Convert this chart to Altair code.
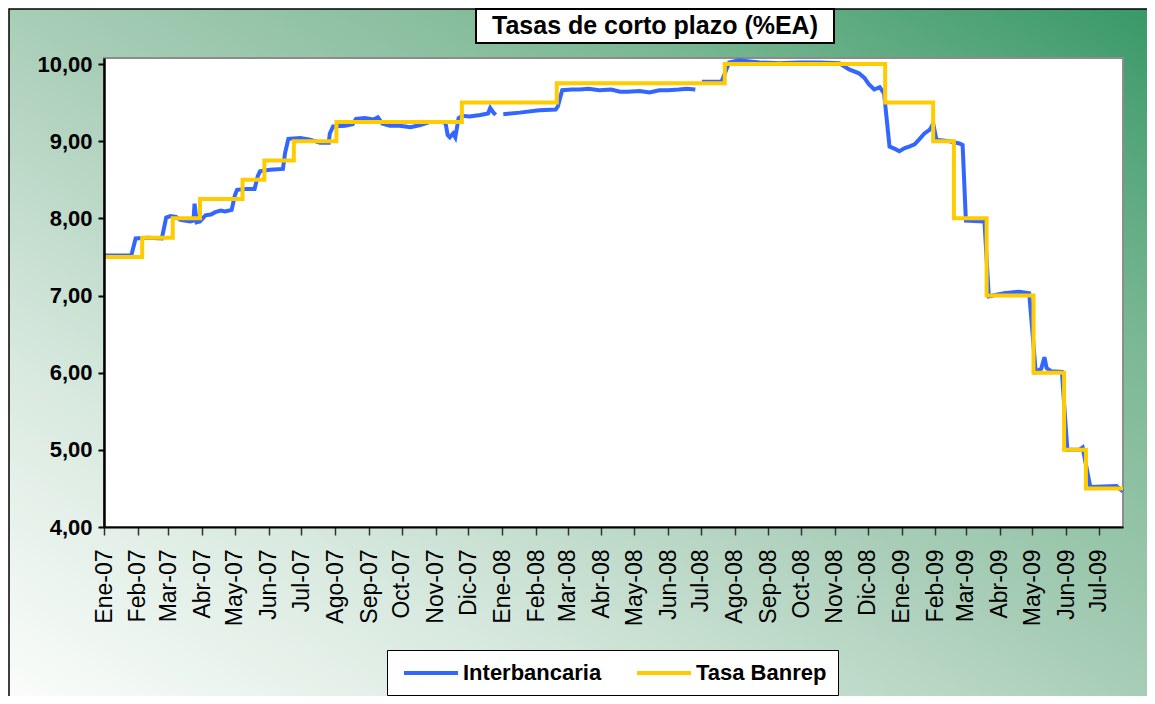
import altair as alt
import pandas as pd

# ---------------- data ----------------
inter_dates = [
    "2007-01-02", "2007-01-26", "2007-01-30", "2007-02-10", "2007-02-23", "2007-02-27",
    "2007-03-03", "2007-03-08", "2007-03-12", "2007-03-21", "2007-03-24", "2007-03-25",
    "2007-03-27", "2007-03-30", "2007-04-04", "2007-04-09", "2007-04-13", "2007-04-18",
    "2007-04-22", "2007-04-28", "2007-05-01", "2007-05-03", "2007-05-11", "2007-05-19",
    "2007-05-22", "2007-05-24", "2007-06-02", "2007-06-14", "2007-06-16", "2007-06-19",
    "2007-06-30", "2007-07-09", "2007-07-18", "2007-07-26", "2007-07-27", "2007-07-30",
    "2007-08-10", "2007-08-17", "2007-08-20", "2007-08-28", "2007-09-05", "2007-09-09",
    "2007-09-13", "2007-09-20", "2007-09-29", "2007-10-09", "2007-10-18", "2007-10-27",
    "2007-11-05", "2007-11-10", "2007-11-12", "2007-11-14", "2007-11-17", "2007-11-19",
    "2007-11-22", "2007-11-25", "2007-12-02", "2007-12-12", "2007-12-19", "2007-12-21",
    "2007-12-24", "2007-12-26", "2007-12-31",
    "2008-01-02", "2008-01-17", "2008-02-04", "2008-02-19", "2008-02-21", "2008-02-25",
    "2008-03-05", "2008-03-12", "2008-03-20", "2008-03-30", "2008-04-10", "2008-04-18",
    "2008-04-25", "2008-05-06", "2008-05-15", "2008-05-24", "2008-06-01", "2008-06-11",
    "2008-06-18", "2008-06-26", "2008-06-29",
    "2008-07-02", "2008-07-20", "2008-07-27", "2008-08-05", "2008-08-24", "2008-09-11",
    "2008-09-29", "2008-10-18", "2008-11-05", "2008-11-14", "2008-11-23", "2008-11-28",
    "2008-12-02", "2008-12-07", "2008-12-12", "2008-12-16", "2008-12-21", "2008-12-26",
    "2008-12-30", "2009-01-04", "2009-01-08", "2009-01-13", "2009-01-17", "2009-01-22",
    "2009-01-27", "2009-01-30", "2009-02-02", "2009-02-14", "2009-02-23", "2009-02-26",
    "2009-03-01", "2009-03-18", "2009-03-22", "2009-04-05", "2009-04-19", "2009-04-28",
    "2009-05-04", "2009-05-09", "2009-05-12", "2009-05-14", "2009-05-18", "2009-05-28",
    "2009-06-02", "2009-06-13", "2009-06-16", "2009-06-23", "2009-07-17", "2009-07-23",
]
inter_values = [
    7.52, 7.52, 7.74, 7.75, 7.74, 8.01,
    8.03, 8.02, 7.98, 7.96, 7.97, 8.19,
    7.95, 7.96, 8.04, 8.05, 8.08, 8.10,
    8.09, 8.11, 8.30, 8.37, 8.38, 8.38,
    8.55, 8.61, 8.63, 8.64, 8.85, 9.03,
    9.04, 9.02, 8.98, 8.98, 9.10, 9.19,
    9.20, 9.22, 9.29, 9.30, 9.28, 9.31,
    9.23, 9.20, 9.20, 9.18, 9.21, 9.25,
    9.25, 9.24, 9.08, 9.05, 9.10, 9.05,
    9.30, 9.33, 9.32, 9.34, 9.36, 9.43,
    9.37, 9.34, None,
    9.35, 9.37, 9.40, 9.41, 9.45, 9.66,
    9.67, 9.67, 9.68, 9.66, 9.67, 9.64,
    9.64, 9.65, 9.63, 9.66, 9.66, 9.67,
    9.68, 9.67, None,
    9.77, 9.77, 10.02, 10.05, 10.02, 10.01,
    10.02, 10.02, 10.01, 9.93, 9.88, 9.82,
    9.74, 9.67, 9.70, 9.62, 8.93, 8.90,
    8.87, 8.91, 8.93, 8.96, 9.02, 9.10,
    9.15, 9.23, 9.02, 9.00, 8.97, 8.95,
    7.97, 7.96, 6.99, 7.03, 7.05, 7.03,
    6.01, 6.05, 6.20, 6.06, 6.02, 6.01,
    5.00, 5.00, 5.03, 4.52, 4.53, 4.46,
]

banrep_dates = [
    "2007-01-01", "2007-02-05", "2007-03-05", "2007-03-30", "2007-05-08", "2007-05-28",
    "2007-06-24", "2007-08-02", "2007-11-25", "2008-02-20", "2008-07-23", "2008-12-17",
    "2009-01-30", "2009-02-18", "2009-03-20", "2009-05-02", "2009-05-30", "2009-06-19",
    "2009-07-23",
]
banrep_values = [
    7.50, 7.75, 8.00, 8.25, 8.50, 8.75,
    9.00, 9.25, 9.50, 9.75, 10.00, 9.50,
    9.00, 8.00, 7.00, 6.00, 5.00, 4.50,
    4.50,
]

series_names = ["Interbancaria", "Tasa Banrep"]
series_colors = ["#3366ff", "#ffcc00"]
month_abbr = ["Ene", "Feb", "Mar", "Abr", "May", "Jun", "Jul", "Ago", "Sep", "Oct", "Nov", "Dic"]
y_ticks = [4, 5, 6, 7, 8, 9, 10]
title_text = "Tasas de corto plazo (%EA)"

# ---------------- layout ----------------
W, H = 1019, 469
PAD = {"left": 96, "top": 50, "right": 24, "bottom": 169}
FONT = "Liberation Sans"

df_i = pd.DataFrame({"fecha": inter_dates, "tasa": inter_values, "serie": series_names[0]})
df_b = pd.DataFrame({"fecha": banrep_dates, "tasa": banrep_values, "serie": series_names[1]})

tick_vals = [alt.DateTime(year=d.year, month=d.month, date=1, utc=True)
             for d in pd.date_range("2007-01-01", "2009-07-01", freq="MS")]
month_js = "[" + ",".join("'%s'" % m for m in month_abbr) + "]"

x_enc = alt.X(
    "fecha:T",
    title=None,
    scale=alt.Scale(type="utc", domain=[alt.DateTime(year=2007, month=1, date=1, utc=True),
                                        alt.DateTime(year=2009, month=7, date=23, utc=True)]),
    axis=alt.Axis(
        values=tick_vals,
        labelExpr=month_js + "[utcmonth(datum.value)] + '-' + utcFormat(datum.value, '%y')",
        labelAngle=270, labelAlign="right", labelBaseline="middle",
        labelFont=FONT, labelFontSize=23, labelColor="black",
        labelOverlap=False, labelFlush=False, labelBound=False,
        labelPadding=14, tickSize=8, tickColor="#333333", tickWidth=1.5,
        domainColor="black", domainWidth=2, grid=False, zindex=1,
    ),
)
y_enc = alt.Y(
    "tasa:Q",
    title=None,
    scale=alt.Scale(domain=[4, 10.078], nice=False, zero=False),
    axis=alt.Axis(
        values=y_ticks,
        labelExpr="replace(format(datum.value, '.2f'), '.', ',')",
        labelFont=FONT, labelFontSize=22, labelFontWeight="bold", labelColor="black",
        labelPadding=6, tickSize=6, tickColor="black", tickWidth=2,
        domainColor="black", domainWidth=2.5, grid=False, zindex=1,
    ),
)
color_enc = alt.Color(
    "serie:N",
    scale=alt.Scale(domain=series_names, range=series_colors),
    legend=alt.Legend(
        title=None, orient="none", legendX=283, legendY=592, direction="horizontal",
        symbolType="M-2.7,0H2.7", symbolSize=400, symbolStrokeWidth=4, symbolOffset=21,
        labelFont=FONT, labelFontSize=22, labelFontWeight="bold", labelColor="black",
        labelOffset=20, columnPadding=27, padding=11,
        fillColor="white", strokeColor="black",
    ),
)

one = alt.Data(values=[{"k": 1}])

bg = alt.Chart(one).mark_rect(
    fill=alt.LinearGradient(
        gradient="linear", x1=0, y1=1, x2=1, y2=0,
        stops=[alt.GradientStop(offset=0, color="#fbfdfb"),
               alt.GradientStop(offset=0.25, color="#d8e9df"),
               alt.GradientStop(offset=0.5, color="#a8cdb7"),
               alt.GradientStop(offset=0.75, color="#7bb894"),
               alt.GradientStop(offset=1, color="#389868")]),
    stroke="black", strokeWidth=1.5,
).encode(
    x=alt.value(-PAD["left"] + 1), x2=alt.value(W + PAD["right"] + 10),
    y=alt.value(-PAD["top"] + 1), y2=alt.value(H + PAD["bottom"] + 10),
)

plot_bg = alt.Chart(one).mark_rect(fill="white", stroke="#8c8c8c", strokeWidth=2).encode(
    x=alt.value(0), x2=alt.value(W), y=alt.value(0), y2=alt.value(H),
)

blue = alt.Chart(df_i).mark_line(strokeWidth=4, interpolate="linear").encode(
    x=x_enc, y=y_enc, color=color_enc
)
yellow = alt.Chart(df_b).mark_line(strokeWidth=4, interpolate="step-after").encode(
    x=x_enc, y=y_enc, color=color_enc
)

title_box = alt.Chart(one).mark_rect(fill="white", stroke="black", strokeWidth=2).encode(
    x=alt.value(372), x2=alt.value(730), y=alt.value(-49), y2=alt.value(-15),
)
title_txt = alt.Chart(one).mark_text(
    text=title_text, font=FONT, fontSize=25, fontWeight="bold", color="black",
    align="center", baseline="middle",
).encode(x=alt.value(551), y=alt.value(-32))

chart = alt.layer(bg, plot_bg, blue, yellow, title_box, title_txt).properties(
    width=W, height=H,
    autosize=alt.AutoSizeParams(type="none"),
    padding=PAD,
).configure_view(stroke="transparent").configure(background="white")

chart.save("out.html", embed_options={"renderer": "svg", "actions": False})
